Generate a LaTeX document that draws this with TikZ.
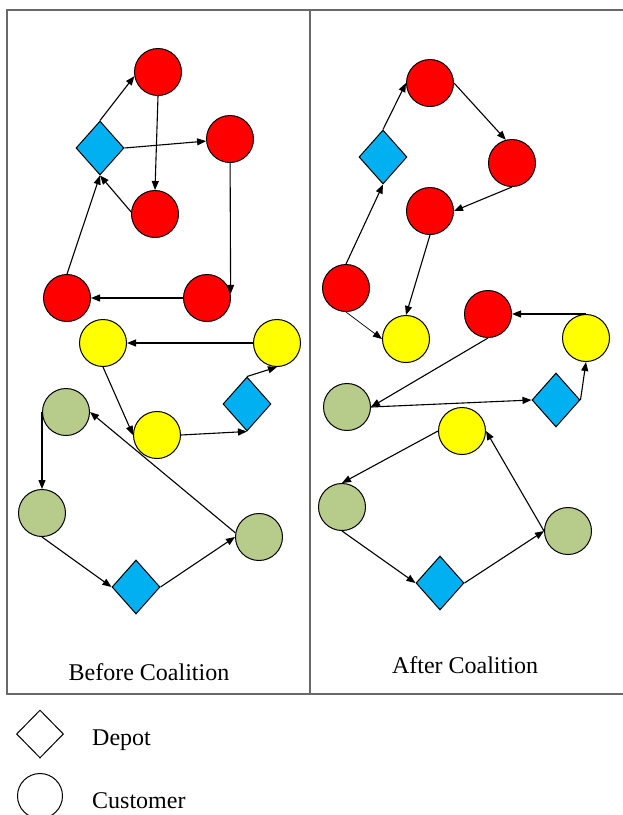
\documentclass[tikz,border=0pt]{standalone}
\usepackage{fontspec}
\setmainfont{Liberation Serif}
\usetikzlibrary{shapes.geometric,arrows.meta}
\definecolor{routered}{RGB}{255,0,0}
\definecolor{routeyellow}{RGB}{255,255,0}
\definecolor{routegreen}{RGB}{183,204,138}
\definecolor{depotblue}{RGB}{0,176,240}
\definecolor{framegray}{RGB}{105,105,105}

\begin{document}
\begin{tikzpicture}[x=1pt,y=-1pt,
		cust/.style={circle,draw,line width=1pt,minimum size=47pt,inner sep=0pt},
		depot/.style={diamond,draw,line width=1pt,fill=depotblue,minimum width=48pt,minimum height=54pt,inner sep=0pt},
		arr/.style={-{Triangle[length=9pt,width=7pt]},line width=1.1pt},
		lbl/.style={font=\fontsize{24}{28}\selectfont,inner sep=0pt}]
		\useasboundingbox (0,0) rectangle (623,815);
		% frames
		\draw[framegray,line width=1.2pt] (7,10) rectangle (630,694);
		\draw[framegray,line width=1.2pt] (310,10) -- (310,694);
		% before coalition
		\node[depot] (d1) at (100,148) {};
		\node[cust,fill=routered] (r1) at (158,72) {};
		\node[cust,fill=routered] (r2) at (230,139) {};
		\node[cust,fill=routered] (r3) at (155,214) {};
		\node[cust,fill=routered] (r4) at (67,298) {};
		\node[cust,fill=routered] (r5) at (207,298) {};
		\draw[arr] (d1.north) -- (r1.190);
		\draw[arr] (d1.east) -- (r2.185);
		\draw[arr] (r1.south) -- (r3.north);
		\draw[arr] (r3.175) -- (d1.south);
		\draw[arr] (r2) -- (r5.10);
		\draw[arr] (r5.west) -- (r4.east);
		\draw[arr] (r4.north) -- (d1.south);
		\node[depot] (d2) at (247,404) {};
		\node[cust,fill=routeyellow] (y1) at (103,343) {};
		\node[cust,fill=routeyellow] (y2) at (277,343) {};
		\node[cust,fill=routeyellow] (y3) at (157,435) {};
		\draw[arr] (y2.west) -- (y1.east);
		\draw[arr] (y1.south) -- (y3.west);
		\draw[arr] (y3.east) -- (d2.south);
		\draw[arr] (d2.north) -- (y2.south);
		\node[depot] (d3) at (136,587) {};
		\node[cust,fill=routegreen] (g1) at (66,412) {};
		\node[cust,fill=routegreen] (g2) at (42,513) {};
		\node[cust,fill=routegreen] (g3) at (259,537) {};
		\draw[arr] (g1.west) -- (g2.north);
		\draw[arr] (g2.south) -- (d3.west);
		\draw[arr] (d3.east) -- (g3.west);
		\draw[arr] (g3.170) -- (g1.east);
		\node[lbl,anchor=base] (before) at (149,680) {Before Coalition};
		% after coalition
		\node[depot] (d4) at (383,157) {};
		\node[cust,fill=routered] (r6) at (430,83) {};
		\node[cust,fill=routered] (r7) at (512,163) {};
		\node[cust,fill=routered] (r8) at (430,211) {};
		\node[cust,fill=routered] (r9) at (346,288) {};
		\node[cust,fill=routered] (r10) at (488,314) {};
		\node[cust,fill=routeyellow] (y4) at (406,339) {};
		\node[cust,fill=routeyellow] (y5) at (586,338) {};
		\node[cust,fill=routeyellow] (y6) at (462,431) {};
		\node[depot] (d5) at (556,400) {};
		\node[depot] (d6) at (440,583) {};
		\node[cust,fill=routegreen] (g4) at (347,407) {};
		\node[cust,fill=routegreen] (g5) at (342,507) {};
		\node[cust,fill=routegreen] (g6) at (568,531) {};
		\draw[arr] (r9.north) -- (d4.south);
		\draw[arr] (d4.north) -- (r6.west);
		\draw[arr] (r6.east) -- (r7.105);
		\draw[arr] (r7.south) -- (r8.east);
		\draw[arr] (r8.south) -- (y4.north);
		\draw[arr,line width=0.7pt] (r9.south) -- (y4.west);
		\draw[arr] (y5.north) -- (r10.east);
		\draw[arr] (r10.south) -- (g4.east);
		\draw[arr] (g4.east) -- (d5.west);
		\draw[arr] (d5.east) -- (y5.south);
		\draw[arr] (y6.west) -- (g5.north);
		\draw[arr] (g5.south) -- (d6.west);
		\draw[arr] (d6.east) -- (g6.west);
		\draw[arr] (g6.west) -- (y6.east);
		\node[lbl,anchor=base] (after) at (465,673) {After Coalition};
		% legend
		\node[diamond,draw,line width=1pt,minimum width=47pt,minimum height=48pt,inner sep=0pt] (keydepot) at (40,734) {};
		\node[lbl,anchor=base west] (keydepottxt) at (92,745) {Depot};
		\node[circle,draw,line width=1pt,minimum size=45pt,inner sep=0pt] (keycust) at (40,796) {};
		\node[lbl,anchor=base west] (keycusttxt) at (92,808) {Customer};
\end{tikzpicture}
\end{document}
